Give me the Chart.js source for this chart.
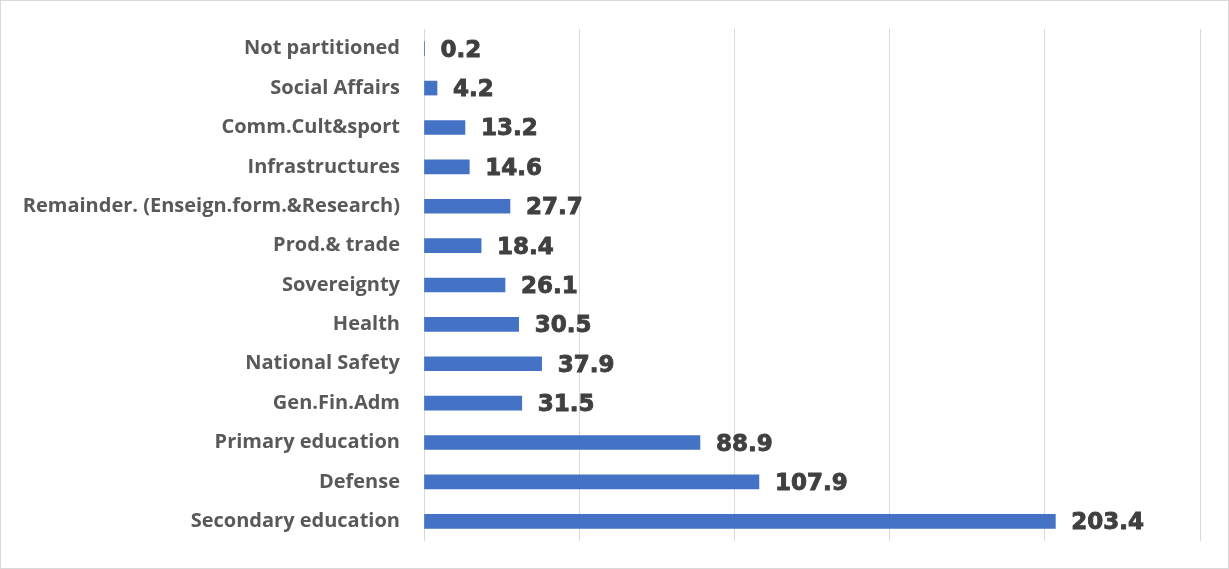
<!DOCTYPE html>
<html>
<head>
<meta charset="utf-8">
<script src="https://cdn.jsdelivr.net/npm/chart.js@4/dist/chart.umd.min.js"></script>
<style>
	html, body { margin: 0; padding: 0; background: #fff; }
	#wrap { width: 1229px; height: 569px; position: relative; }
</style>
</head>
<body>
<div id="wrap"><canvas id="miGrafico"></canvas></div>
<script>
const categories = [
	"Not partitioned",
	"Social Affairs",
	"Comm.Cult&sport",
	"Infrastructures",
	"Remainder. (Enseign.form.&Research)",
	"Prod.& trade",
	"Sovereignty",
	"Health",
	"National Safety",
	"Gen.Fin.Adm",
	"Primary education",
	"Defense",
	"Secondary education",
];
const values = [0.2, 4.2, 13.2, 14.6, 27.7, 18.4, 26.1, 30.5, 37.9, 31.5, 88.9, 107.9, 203.4];

// value labels to the right of each bar
const barLabels = {
	id: "barLabels",
	afterDatasetsDraw(chart) {
		const ctx = chart.ctx;
		const meta = chart.getDatasetMeta(0);
		ctx.save();
		ctx.font = "bold 23px 'DejaVu Sans', sans-serif";
		ctx.fillStyle = "#404040";
		ctx.strokeStyle = "#404040";
		ctx.lineWidth = 0.9;
		ctx.textAlign = "left";
		ctx.textBaseline = "middle";
		meta.data.forEach((bar, i) => {
			const txt = values[i].toFixed(1);
			ctx.fillText(txt, bar.x + 16, bar.y + 2);
			ctx.strokeText(txt, bar.x + 16, bar.y + 2);
		});
		ctx.restore();
	},
};

// thin frame round the whole chart
const frame = {
	id: "frame",
	beforeDraw(chart) {
		const ctx = chart.ctx;
		ctx.save();
		ctx.strokeStyle = "#d9d9d9";
		ctx.lineWidth = 1;
		ctx.strokeRect(0.5, 0.5, chart.width - 1, chart.height - 1);
		ctx.restore();
	},
};

function initGrafico() {
	const ctx = document.getElementById("miGrafico");

	new Chart(ctx, {
		type: "bar",
		data: {
			labels: categories,
			datasets: [
				{
					data: values,
					backgroundColor: "#4472c4",
					barThickness: 14,
				},
			],
		},
		options: {
			indexAxis: "y",
			responsive: true,
			maintainAspectRatio: false,
			animation: false,
			layout: {
				padding: { left: 0, top: 29, right: 29, bottom: 18 },
			},
			plugins: {
				legend: { display: false },
				tooltip: { enabled: false },
			},
			scales: {
				x: {
					min: 0,
					max: 250,
					ticks: { display: false, stepSize: 50 },
					grid: { color: "#d9d9d9", lineWidth: 1, drawTicks: false },
					border: { display: false },
					afterFit(scale) {
						scale.height = 0;
					},
				},
				y: {
					grid: { display: false },
					border: { display: false },
					ticks: {
						color: "#595959",
						padding: 16,
						font: { family: "'Open Sans', sans-serif", size: 20, weight: "bold" },
					},
					afterFit(scale) {
						scale.width = 424;
					},
				},
			},
		},
		plugins: [barLabels, frame],
	});
}

initGrafico();
</script>
</body>
</html>
